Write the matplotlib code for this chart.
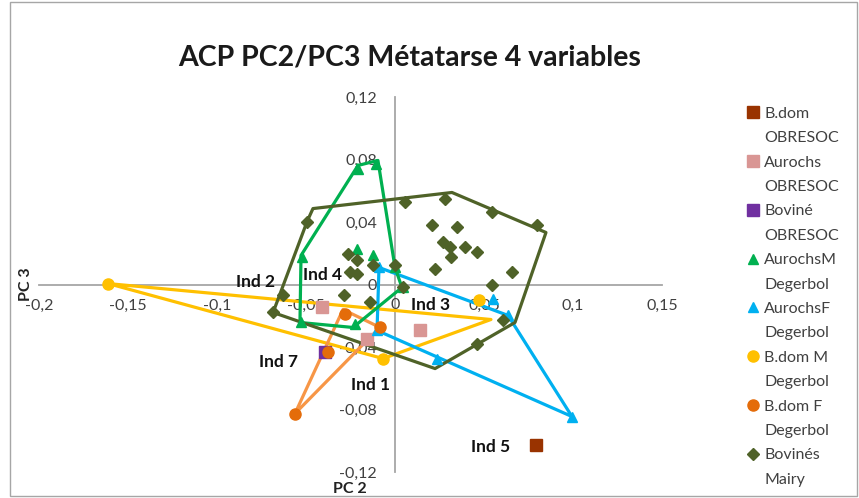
import matplotlib
matplotlib.use("Agg")
import matplotlib.pyplot as plt
from matplotlib.lines import Line2D
from matplotlib.patches import Rectangle

plt.rcParams['font.family'] = ['Lato', 'DejaVu Sans']

# --- data (PC2, PC3) ---
bdom_obresoc_x = [0.0792]
bdom_obresoc_y = [-0.1024]
aurochs_obresoc_x = [-0.0410, -0.0157, 0.0140]
aurochs_obresoc_y = [-0.0141, -0.0346, -0.0288]
bovine_obresoc_x = [-0.0393]
bovine_obresoc_y = [-0.0435]

aurochs_m_x = [-0.0208, -0.0107, -0.0522, -0.0213, -0.0124, 0.0000, 0.0045, -0.0225, -0.0528]
aurochs_m_y = [0.0742, 0.0774, 0.0179, 0.0230, 0.0186, 0.0115, -0.0019, -0.0250, -0.0243]
aurochs_f_x = [-0.0090, 0.0551, 0.0635, 0.0994, 0.0236, -0.0101]
aurochs_f_y = [0.0109, -0.0090, -0.0198, -0.0845, -0.0474, -0.0294]
bdom_m_x = [-0.1612, 0.0472, -0.0067]
bdom_m_y = [0.0006, -0.0102, -0.0474]
bdom_f_x = [-0.0562, -0.0281, -0.0084, -0.0376]
bdom_f_y = [-0.0826, -0.0186, -0.0275, -0.0435]

mairy_x = [-0.0685, -0.0629, -0.0494, 0.0056, 0.0281, 0.0545, 0.0798, 0.0208, 0.0348,
           0.0270, 0.0309, 0.0393, 0.0461, 0.0315, 0.0225, 0.0657, 0.0545, 0.0000,
           -0.0124, -0.0264, -0.0213, -0.0253, -0.0213, 0.0045, -0.0287, -0.0140,
           0.0607, 0.0461]
mairy_y = [-0.0179, -0.0070, 0.0403, 0.0531, 0.0550, 0.0467, 0.0384, 0.0378, 0.0365,
           0.0269, 0.0243, 0.0237, 0.0211, 0.0173, 0.0102, 0.0083, -0.0006, 0.0128,
           0.0122, 0.0198, 0.0154, 0.0077, 0.0070, -0.0013, -0.0070, -0.0109,
           -0.0230, -0.0378]

# hand-drawn envelopes
hull_bdom_m_x = [-0.1612, 0.0539, -0.0067, -0.1612]
hull_bdom_m_y = [0.0006, -0.0224, -0.0474, 0.0006]
hull_bdom_f_x = [-0.0562, -0.0292, -0.0084, -0.0169, -0.0562]
hull_bdom_f_y = [-0.0826, -0.0160, -0.0275, -0.0371, -0.0826]
hull_aurochs_f_x = [-0.0090, 0.0635, 0.0994, -0.0101, -0.0090]
hull_aurochs_f_y = [0.0109, -0.0198, -0.0845, -0.0294, 0.0109]
hull_aurochs_m_x = [-0.0208, -0.0096, 0.0000, 0.0039, -0.0236, -0.0534, -0.0528, -0.0208]
hull_aurochs_m_y = [0.0762, 0.0794, 0.0109, -0.0019, -0.0275, -0.0243, 0.0186, 0.0762]
hull_mairy_x = [-0.0685, -0.0494, -0.0461, 0.0320, 0.0848, 0.0674, 0.0225, -0.0685]
hull_mairy_y = [-0.0179, 0.0403, 0.0486, 0.0589, 0.0333, -0.0243, -0.0538, -0.0179]

ind_labels = ['Ind 2', 'Ind 4', 'Ind 3', 'Ind 7', 'Ind 1', 'Ind 5']
ind_x = [-0.0781, -0.0410, 0.0197, -0.0657, -0.0135, 0.0534]
ind_y = [0.0019, 0.0064, -0.0128, -0.0493, -0.0646, -0.1043]

xticks = [-0.2, -0.15, -0.1, -0.05, 0, 0.05, 0.1, 0.15]
xtick_labels = ['-0,2', '-0,15', '-0,1', '-0,05', '0', '0,05', '0,1', '0,15']
yticks = [-0.12, -0.08, -0.04, 0, 0.04, 0.08, 0.12]
ytick_labels = ['-0,12', '-0,08', '-0,04', '0', '0,04', '0,08', '0,12']

# colours
c_brown = '#993300'
c_pink = '#D99694'
c_purple = '#7030A0'
c_green = '#00B050'
c_blue = '#00B0F0'
c_yellow = '#FFC000'
c_orange = '#E46C0A'
c_orange_line = '#F79646'
c_olive = '#4F6228'

fig = plt.figure(figsize=(8.59, 4.98), dpi=100)
ax = fig.add_axes([0.0454, 0.0522, 0.7253, 0.7530])

# envelopes
ax.plot(hull_bdom_m_x, hull_bdom_m_y, color=c_yellow, lw=2.3, zorder=2)
ax.plot(hull_bdom_f_x, hull_bdom_f_y, color=c_orange_line, lw=2.3, zorder=2)
ax.plot(hull_aurochs_f_x, hull_aurochs_f_y, color=c_blue, lw=2.3, zorder=2)
ax.plot(hull_aurochs_m_x, hull_aurochs_m_y, color=c_green, lw=2.3, zorder=2)
ax.plot(hull_mairy_x, hull_mairy_y, color=c_olive, lw=2.3, zorder=2)

# points
series = [
    ('B.dom', 'OBRESOC', bdom_obresoc_x, bdom_obresoc_y, 's', c_brown, 8),
    ('Aurochs', 'OBRESOC', aurochs_obresoc_x, aurochs_obresoc_y, 's', c_pink, 8),
    ('Boviné', 'OBRESOC', bovine_obresoc_x, bovine_obresoc_y, 's', c_purple, 8),
    ('AurochsM', 'Degerbol', aurochs_m_x, aurochs_m_y, '^', c_green, 7),
    ('AurochsF', 'Degerbol', aurochs_f_x, aurochs_f_y, '^', c_blue, 7),
    ('B.dom M', 'Degerbol', bdom_m_x, bdom_m_y, 'o', c_yellow, 8),
    ('B.dom F', 'Degerbol', bdom_f_x, bdom_f_y, 'o', c_orange, 8),
    ('Bovinés', 'Mairy', mairy_x, mairy_y, 'D', c_olive, 6),
]
handles, labels = [], []
for line1, line2, xs, ys, mk, col, ms in series:
    ax.plot(xs, ys, linestyle='none', marker=mk, color=col, ms=ms, zorder=3)
    handles.append(Line2D([], [], linestyle='none', marker=mk, color=col, ms=ms))
    handles.append(Line2D([], [], linestyle='none'))
    labels += [line1, line2]

for txt, x, y in zip(ind_labels, ind_x, ind_y):
    ax.text(x, y, txt, ha='center', va='center', fontsize=12.5, fontweight='bold',
            color='#111111', zorder=4)

# axes through the origin
ax.set_xlim(-0.2, 0.15)
ax.set_ylim(-0.12, 0.12)
ax.spines['left'].set_position(('data', 0))
ax.spines['bottom'].set_position(('data', 0))
for s in ['top', 'right']:
    ax.spines[s].set_visible(False)
for s in ['left', 'bottom']:
    ax.spines[s].set_color('#A6A6A6')
    ax.spines[s].set_linewidth(1.3)
    ax.spines[s].set_zorder(1)
ax.set_xticks(xticks)
ax.set_xticklabels(xtick_labels)
ax.set_yticks(yticks)
ax.set_yticklabels(ytick_labels)
ax.tick_params(axis='both', length=0, labelsize=11.5, labelcolor='#404040')
ax.tick_params(axis='x', pad=10)
ax.tick_params(axis='y', pad=13)
ax.patch.set_visible(False)

fig.text(0.030, 0.43, 'PC 3', rotation=90, ha='center', va='center',
         fontsize=11.5, fontweight='bold', color='#222222')
fig.text(0.407, 0.018, 'PC 2', ha='center', va='center',
         fontsize=11.5, fontweight='bold', color='#222222')

fig.suptitle('ACP PC2/PC3 Métatarse 4 variables', x=0.477, y=0.91,
             fontsize=20.5, fontweight='bold', color='#1a1a1a')

fig.legend(handles, labels, loc='upper left', bbox_to_anchor=(0.861, 0.802),
           frameon=False, fontsize=11.5, labelspacing=0.64, handlelength=0.7,
           handletextpad=0.35, borderpad=0, labelcolor='#404040')

fig.add_artist(Rectangle((0.012, 0.004), 0.986, 0.992, transform=fig.transFigure,
                         fill=False, edgecolor='#A6A6A6', lw=1.0))

fig.savefig('out.png', dpi=100)
